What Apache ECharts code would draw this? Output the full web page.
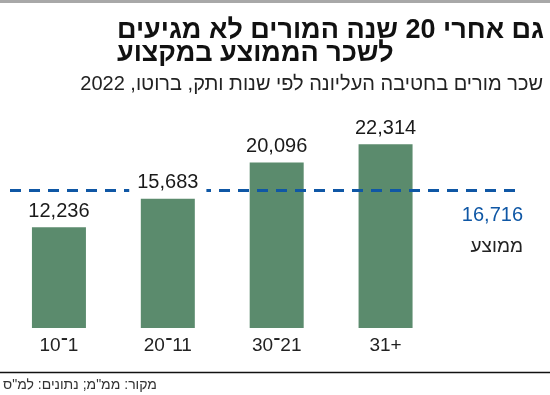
<!DOCTYPE html>
<html dir="rtl">
<head>
<meta charset="utf-8">
<script src="https://cdn.jsdelivr.net/npm/echarts@6/dist/echarts.min.js"></script>
<style>
html,body{margin:0;padding:0;background:#fff;}
#chart{width:550px;height:395px;}
</style>
</head>
<body>
<div id="chart"></div>
<script>
const titleText = 'גם אחרי 20 שנה המורים לא מגיעים\nלשכר הממוצע במקצוע';
const subtitleText = 'שכר מורים בחטיבה העליונה לפי שנות ותק, ברוטו, 2022';
const sourceText = 'מקור: ממ"מ; נתונים: למ"ס';
const categories = ['1־10', '11־20', '21־30', '+31'];
const values = [12236, 15683, 20096, 22314];
const average = 16716;
const averageLabel = 'ממוצע';

const FONT = '"Liberation Sans", sans-serif';
const BLUE = '#0f57a5';
const GREEN = '#5b8b6d';
const fmt = v => v.toLocaleString('en-US');

const chart = echarts.init(document.getElementById('chart'), null, {renderer: 'canvas'});
chart.setOption({
  animation: false,
  backgroundColor: '#fff',
  title: [{
    text: titleText,
    right: 1, top: 14,
    textStyle: {fontFamily: FONT, fontWeight: 'bold', fontSize: 27, lineHeight: 23, color: '#111'}
  }, {
    text: subtitleText,
    right: 2, top: 69,
    textStyle: {fontFamily: FONT, fontWeight: 'normal', fontSize: 20, color: '#222'}
  }],
  grid: [
    {left: 4.5, right: 110, top: 122, bottom: 67},
    {left: 10, right: 27, top: 122, bottom: 67}
  ],
  xAxis: [{
    type: 'category', data: categories, gridIndex: 0,
    axisLine: {show: false}, axisTick: {show: false},
    axisLabel: {fontFamily: FONT, fontSize: 19, color: '#222', margin: 8}
  }, {
    type: 'value', gridIndex: 1, min: 0, max: 1, show: false
  }],
  yAxis: [
    {type: 'value', gridIndex: 0, min: 0, max: 25000, show: false},
    {type: 'value', gridIndex: 1, min: 0, max: 25000, show: false}
  ],
  graphic: [
    {type: 'line', shape: {x1: 0, y1: 1.5, x2: 550, y2: 1.5}, style: {stroke: '#a8a8a8', lineWidth: 3}},
    {type: 'line', shape: {x1: 0, y1: 372.5, x2: 550, y2: 372.5}, style: {stroke: '#111', lineWidth: 1.5}},
    {type: 'text', left: 3, top: 378, style: {text: sourceText, font: '14px ' + FONT, fill: '#333'}}
  ],
  series: [{
    type: 'bar', xAxisIndex: 0, yAxisIndex: 0, data: values, barWidth: 54, z: 2,
    itemStyle: {color: GREEN}, silent: true
  }, {
    type: 'line', xAxisIndex: 1, yAxisIndex: 1, data: [], z: 3, silent: true,
    markLine: {
      silent: true, z: 3, symbol: ['none', 'none'],
      lineStyle: {color: BLUE, width: 3, type: [11, 8]},
      label: {
        show: true, position: 'insideEndBottom', distance: [0, 10],
        formatter: () => '{v|' + fmt(average) + '}\n{t|' + averageLabel + '}',
        rich: {
          v: {fontFamily: FONT, fontSize: 20, color: BLUE, lineHeight: 31},
          t: {fontFamily: FONT, fontSize: 19, color: '#222', lineHeight: 31}
        }
      },
      data: [{yAxis: average}]
    }
  }, {
    type: 'bar', xAxisIndex: 0, yAxisIndex: 0, data: values, barWidth: 54, barGap: '-100%', z: 4,
    itemStyle: {color: 'rgba(0,0,0,0)'}, silent: true,
    label: {
      show: true, position: 'top', distance: 5,
      formatter: p => fmt(p.value),
      fontFamily: FONT, fontSize: 20, color: '#1a1a1a',
      backgroundColor: '#fff', padding: [2, 8, 1, 8]
    }
  }]
});
</script>
</body>
</html>
